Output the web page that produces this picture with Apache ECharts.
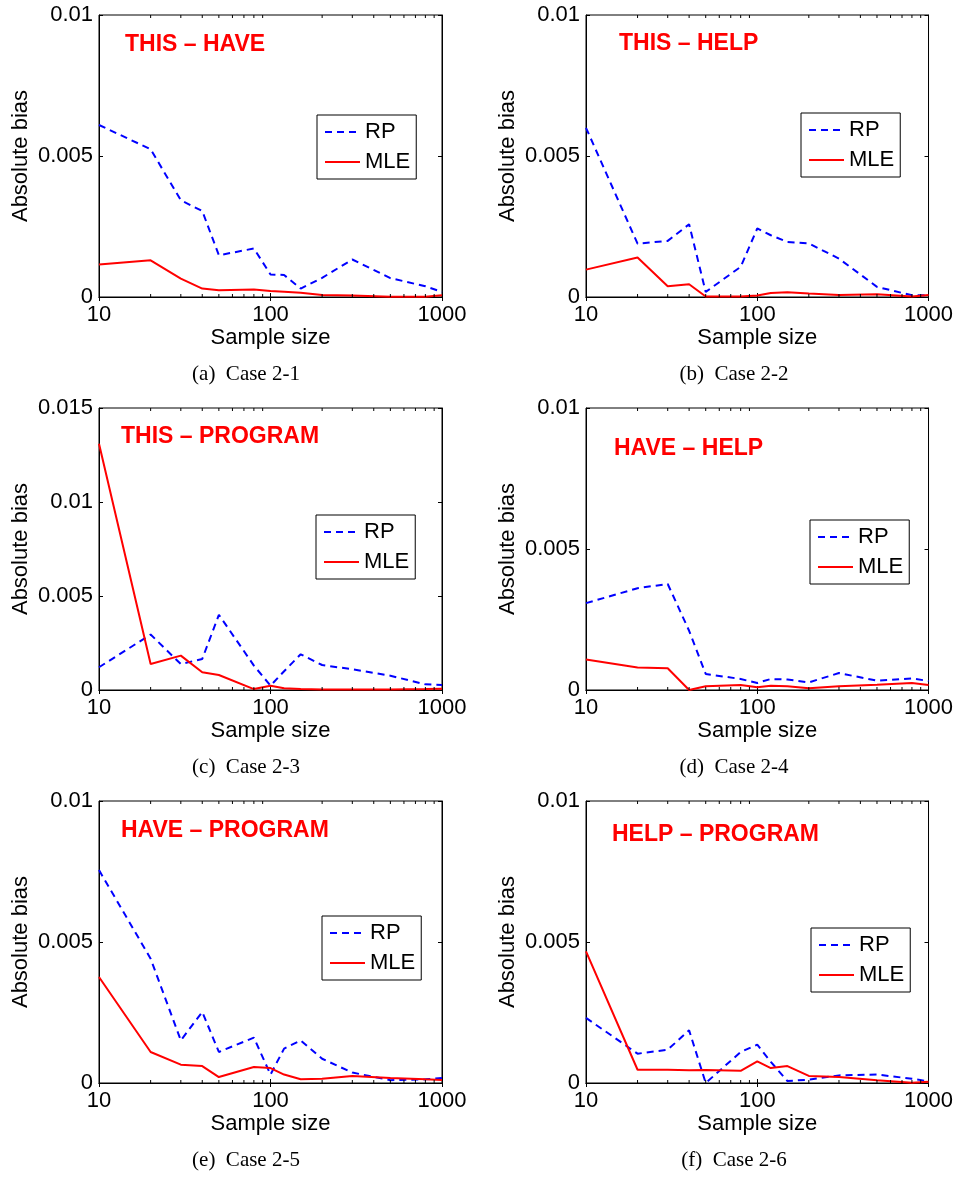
<!DOCTYPE html>
<html>
<head>
<meta charset="utf-8">
<script src="https://cdn.jsdelivr.net/npm/echarts@6/dist/echarts.min.js"></script>
<style>
  html, body { margin: 0; padding: 0; background: #ffffff; }
  #chart { width: 956px; height: 1178px; }
</style>
</head>
<body>
<div id="chart"></div>
<script>
// Sample sizes shared by every panel (log-scaled x axis)
const sampleSizes = [10, 20, 30, 40, 50, 80, 100, 120, 150, 200, 300, 500, 800, 1000];
const xTickValues = [10, 100, 1000];
const xTickLabels = ['10', '100', '1000'];
const xMinorTicks = [20, 30, 40, 50, 60, 70, 80, 90, 200, 300, 400, 500, 600, 700, 800, 900];
const yTickLabels = ['0', '0.005', '0.01', '0.015'];
const yStep = 0.005;

const panelTitles = ['THIS \u2013 HAVE', 'THIS \u2013 HELP', 'THIS \u2013 PROGRAM',
                     'HAVE \u2013 HELP', 'HAVE \u2013 PROGRAM', 'HELP \u2013 PROGRAM'];
const panelCaptions = ['(a)  Case 2-1', '(b)  Case 2-2', '(c)  Case 2-3',
                       '(d)  Case 2-4', '(e)  Case 2-5', '(f)  Case 2-6'];
const panelYMax = [0.01, 0.01, 0.015, 0.01, 0.01, 0.01];
const seriesNames = ['RP', 'MLE'];

// Absolute bias per sample size
const rpCase21  = [0.0061, 0.00524, 0.00343, 0.00305, 0.00148, 0.00172, 0.0008, 0.00078, 0.0003, 0.00068, 0.00133, 0.00067, 0.00038, 0.00018];
const mleCase21 = [0.00115, 0.0013, 0.00065, 0.0003, 0.00024, 0.00027, 0.00021, 0.00019, 0.00015, 0.00007, 0.00005, 0.00001, 0.00001, 0.00006];

const rpCase22  = [0.006, 0.00189, 0.00199, 0.00258, 0.00018, 0.00107, 0.00243, 0.00219, 0.00195, 0.0019, 0.00136, 0.00036, 0.00006, 0.00006];
const mleCase22 = [0.00097, 0.0014, 0.00038, 0.00045, 0.00002, 0.00002, 0.00005, 0.00014, 0.00017, 0.00012, 0.00007, 0.0001, 0.00002, 0.00007];

const rpCase23  = [0.00121, 0.00295, 0.00138, 0.00165, 0.004, 0.0013, 0.00023, 0.001, 0.0019, 0.00133, 0.0011, 0.00076, 0.0003, 0.00027];
const mleCase23 = [0.0131, 0.00138, 0.00183, 0.00094, 0.0008, 0.00005, 0.00023, 0.00009, 0.00005, 0.00002, 0.00003, 0.00002, 0.00005, 0.00007];

const rpCase24  = [0.00308, 0.00361, 0.00376, 0.0021, 0.00057, 0.00039, 0.00025, 0.00039, 0.00037, 0.00027, 0.0006, 0.00033, 0.00041, 0.00032];
const mleCase24 = [0.00108, 0.0008, 0.00077, 0.0, 0.00013, 0.00018, 0.0001, 0.00015, 0.00013, 0.00006, 0.00013, 0.00019, 0.00025, 0.00018];

const rpCase25  = [0.00755, 0.00441, 0.00151, 0.00252, 0.0011, 0.00161, 0.0003, 0.00122, 0.00151, 0.00086, 0.00037, 0.0001, 0.00013, 0.00018];
const mleCase25 = [0.00376, 0.0011, 0.00065, 0.0006, 0.00021, 0.00057, 0.00053, 0.0003, 0.00013, 0.00015, 0.00025, 0.00018, 0.00013, 0.00011];

const rpCase26  = [0.00231, 0.00104, 0.00118, 0.00187, 0.0, 0.0011, 0.00136, 0.00075, 0.00007, 0.00012, 0.00027, 0.0003, 0.00015, 0.00006];
const mleCase26 = [0.00467, 0.00047, 0.00047, 0.00045, 0.00046, 0.00043, 0.00077, 0.00053, 0.0006, 0.00025, 0.00021, 0.0001, 0.00001, 0.00004];

const rpValues  = [rpCase21, rpCase22, rpCase23, rpCase24, rpCase25, rpCase26];
const mleValues = [mleCase21, mleCase22, mleCase23, mleCase24, mleCase25, mleCase26];

// ---- page layout (pixels) ----
const SANS = '"Liberation Sans", Arial, Helvetica, sans-serif';
const SERIF = '"Liberation Serif", "Times New Roman", Times, serif';
const PLOT_W = 343, PLOT_H = 282;
const layout = [
  { left: 99,  top: 15,  legend: [317, 115], title: [125, 44.7],  caption: [246, 374] },
  { left: 586, top: 15,  legend: [801, 113], title: [619, 43.7],  caption: [734, 374] },
  { left: 99,  top: 408, legend: [316, 515], title: [121, 436.7], caption: [246, 767] },
  { left: 586, top: 408, legend: [810, 520], title: [614, 448.7], caption: [734, 767] },
  { left: 99,  top: 801, legend: [322, 916], title: [121, 830.8], caption: [246, 1160] },
  { left: 586, top: 801, legend: [811, 928], title: [612, 834.2], caption: [734, 1160] }
];
const RP_DASH = [7, 5];

const grid = [], xAxis = [], yAxis = [], series = [], legend = [];

layout.forEach((L, i) => {
  grid.push({
    left: L.left, top: L.top, width: PLOT_W, height: PLOT_H,
    show: true, borderColor: '#000', borderWidth: 1, backgroundColor: 'transparent'
  });
});

// bottom log axes (0..5)
layout.forEach((L, i) => {
  xAxis.push({
    type: 'log', logBase: 10, min: 10, max: 1000, gridIndex: i,
    name: 'Sample size', nameLocation: 'middle', nameGap: 28,
    nameTextStyle: { fontFamily: SANS, fontSize: 22, color: '#000' },
    axisLine: { show: true, lineStyle: { color: '#000', width: 1 } },
    axisTick: { show: true, inside: true, length: 4, lineStyle: { color: '#000' } },
    axisLabel: {
      fontFamily: SANS, fontSize: 22, color: '#000', margin: 7,
      formatter: v => xTickLabels[xTickValues.indexOf(Math.round(v))]
    },
    splitLine: { show: false }
  });
});
// top log axes (6..11): ticks only
layout.forEach((L, i) => {
  xAxis.push({
    type: 'log', logBase: 10, min: 10, max: 1000, gridIndex: i, position: 'top',
    axisLine: { show: true, lineStyle: { color: '#000', width: 1 } },
    axisTick: { show: true, inside: true, length: 4, lineStyle: { color: '#000' } },
    axisLabel: { show: false }, splitLine: { show: false }
  });
});
// left value axes (0..5)
layout.forEach((L, i) => {
  yAxis.push({
    type: 'value', min: 0, max: panelYMax[i], interval: yStep, gridIndex: i,
    name: 'Absolute bias', nameLocation: 'middle', nameGap: 67,
    nameTextStyle: { fontFamily: SANS, fontSize: 22, color: '#000' },
    axisLine: { show: true, lineStyle: { color: '#000', width: 1 } },
    axisTick: { show: true, inside: true, length: 4, lineStyle: { color: '#000' } },
    axisLabel: {
      fontFamily: SANS, fontSize: 22, color: '#000', margin: 6,
      formatter: v => yTickLabels[Math.round(v / yStep)]
    },
    splitLine: { show: false }
  });
});
// right value axes (6..11): ticks only
layout.forEach((L, i) => {
  yAxis.push({
    type: 'value', min: 0, max: panelYMax[i], interval: yStep, gridIndex: i, position: 'right',
    axisLine: { show: true, lineStyle: { color: '#000', width: 1 } },
    axisTick: { show: true, inside: true, length: 4, lineStyle: { color: '#000' } },
    axisLabel: { show: false }, splitLine: { show: false }
  });
});

layout.forEach((L, i) => {
  series.push({
    name: seriesNames[0], type: 'line', xAxisIndex: i, yAxisIndex: i,
    data: sampleSizes.map((n, k) => [n, rpValues[i][k]]),
    symbol: 'none', showSymbol: false,
    lineStyle: { color: '#0000ff', width: 2, type: RP_DASH },
    itemStyle: { color: '#0000ff' }, z: 3
  });
  series.push({
    name: seriesNames[1], type: 'line', xAxisIndex: i, yAxisIndex: i,
    data: sampleSizes.map((n, k) => [n, mleValues[i][k]]),
    symbol: 'none', showSymbol: false,
    lineStyle: { color: '#ff0000', width: 2, type: 'solid' },
    itemStyle: { color: '#ff0000' }, z: 4
  });
  legend.push({
    data: seriesNames, orient: 'vertical', left: L.legend[0], top: L.legend[1],
    itemWidth: 35, itemHeight: 14, itemGap: 8, padding: [6, 6, 6, 7],
    borderColor: '#000', borderWidth: 1, backgroundColor: '#fff',
    selectedMode: false,
    // line-only keys: the marker dot is hidden
    itemStyle: { opacity: 0 },
    lineStyle: { width: 2 },
    textStyle: { fontFamily: SANS, fontSize: 22, color: '#000', padding: [0, 0, 0, 0] }
  });
});

const chart = echarts.init(document.getElementById('chart'), null, { renderer: 'canvas' });
chart.setOption({
  animation: false,
  backgroundColor: '#ffffff',
  grid, xAxis, yAxis, series, legend
});

// titles, captions and minor ticks placed through the axes' own scales
const graphic = [];
layout.forEach((L, i) => {
  graphic.push({
    type: 'text', x: L.title[0], y: L.title[1], z: 10,
    style: {
      text: panelTitles[i], fill: '#ff0000',
      font: 'bold 23px ' + SANS, textAlign: 'left', textVerticalAlign: 'middle',
      align: 'left', verticalAlign: 'middle'
    }
  });
  graphic.push({
    type: 'text', x: L.caption[0], y: L.caption[1], z: 10,
    style: {
      text: panelCaptions[i], fill: '#000',
      font: '21px ' + SERIF, textAlign: 'center', textVerticalAlign: 'middle',
      align: 'center', verticalAlign: 'middle'
    }
  });
  const yBottom = chart.convertToPixel({ yAxisIndex: i }, 0);
  const yTop = chart.convertToPixel({ yAxisIndex: i }, panelYMax[i]);
  xMinorTicks.forEach(v => {
    const px = chart.convertToPixel({ xAxisIndex: i }, v);
    graphic.push({
      type: 'line', z: 5, silent: true,
      shape: { x1: px, y1: yBottom, x2: px, y2: yBottom - 3 },
      style: { stroke: '#000', lineWidth: 1 }
    });
    graphic.push({
      type: 'line', z: 5, silent: true,
      shape: { x1: px, y1: yTop, x2: px, y2: yTop + 3 },
      style: { stroke: '#000', lineWidth: 1 }
    });
  });
});
chart.setOption({ graphic });
</script>
</body>
</html>
